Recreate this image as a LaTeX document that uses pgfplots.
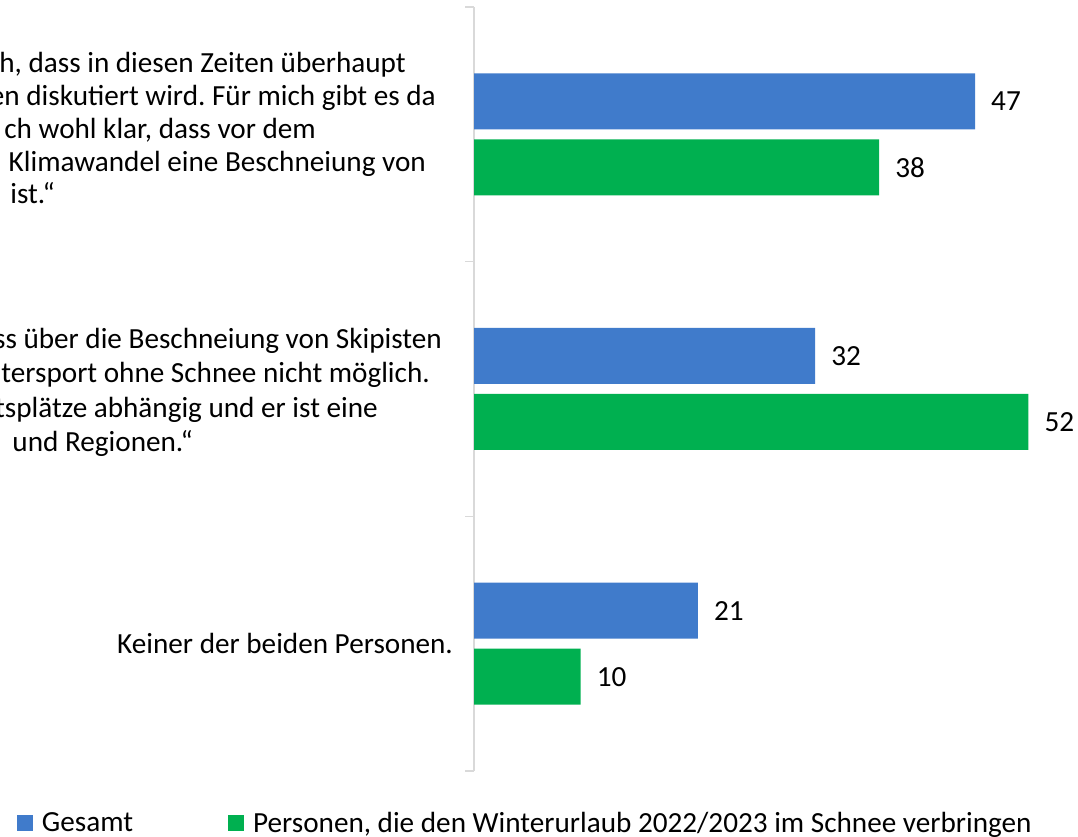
\documentclass[border=0pt]{standalone}
\usepackage{pgfplots}
\pgfplotsset{compat=1.18}
\usepackage{fontspec}
\setmainfont{Carlito}
\frenchspacing

\definecolor{gesamt}{HTML}{407BCB}
\definecolor{schnee}{HTML}{00B050}
\definecolor{achse}{HTML}{D9D9D9}
\newcommand\lab{\fontsize{29.3pt}{33pt}\selectfont}

\pgfplotsset{
  sqlegend/.style={legend image code/.code={\fill[##1] (0bp,-8.7bp) rectangle (16bp,7.3bp);}},
}

\begin{document}
\begin{tikzpicture}[x=1bp,y=1bp]
\useasboundingbox (0,0) rectangle (1078,837);
\clip (0,0) rectangle (1078,837);

\begin{axis}[
    at={(474bp,66bp)}, anchor=south west,
    width=586.3bp, height=764bp, scale only axis,
    xbar,
    xmin=0, xmax=55, ymin=-0.5, ymax=2.5,
    axis x line=none, axis y line*=left,
    y axis line style={achse, line width=1.5bp, -},
    ytick={-0.5,0.5,1.5,2.5}, yticklabels={},
    ytick style={achse, line width=1.5bp},
    major tick length=9bp, tick align=outside,
    xtick=\empty,
    clip=false,
    point meta=x,
    /pgf/number format/assume math mode=true,
    nodes near coords,
    every node near coord/.append style={anchor=west, font=\lab, text=black,
        inner sep=0pt, xshift=16bp},
    legend columns=2,
    legend style={at={(axis description cs:-0.7795,-0.0678)}, anchor=west,
        draw=none, fill=none, inner sep=0pt, outer sep=0pt, font=\lab,
        nodes={inner sep=0pt},
        /tikz/every odd column/.append style={column sep=9bp},
        /tikz/every even column/.append style={column sep=95bp}},
    legend cell align=left,
]
    \addplot[xbar, fill=gesamt, draw=none, bar width=56bp, bar shift=33bp, sqlegend]
    coordinates {(47,2) (32,1) (21,0)};
    \addlegendentry{Gesamt}
    \addplot[xbar, fill=schnee, draw=none, bar width=56bp, bar shift=-33bp, sqlegend]
    coordinates {(38,2) (52,1) (10,0)};
    \addlegendentry{Personen, die den Winterurlaub 2022/2023 im Schnee verbringen}
\end{axis}

\begin{scope}[every node/.style={font=\lab, inner sep=0pt, anchor=base east}]
% erste Aussage (links abgeschnitten)
\node at (406,837-73)  {h, dass in diesen Zeiten überhaupt};
\node at (436,837-106) {en diskutiert wird. Für mich gibt es da};
\node at (316,837-139) {ch wohl klar, dass vor dem};
\node at (426,837-172) {Klimawandel eine Beschneiung von};
\node at (55,837-204)  {ist.“};
% zweite Aussage
\node at (442,837-349) {ss über die Beschneiung von Skipisten};
\node at (430,837-383) {tersport ohne Schnee nicht möglich.};
\node at (378,837-418) {tsplätze abhängig und er ist eine};
\node at (193,837-452) {und Regionen.“};
% dritte
\node at (453,837-654) {Keiner der beiden Personen.};
\end{scope}
\end{tikzpicture}
\end{document}
